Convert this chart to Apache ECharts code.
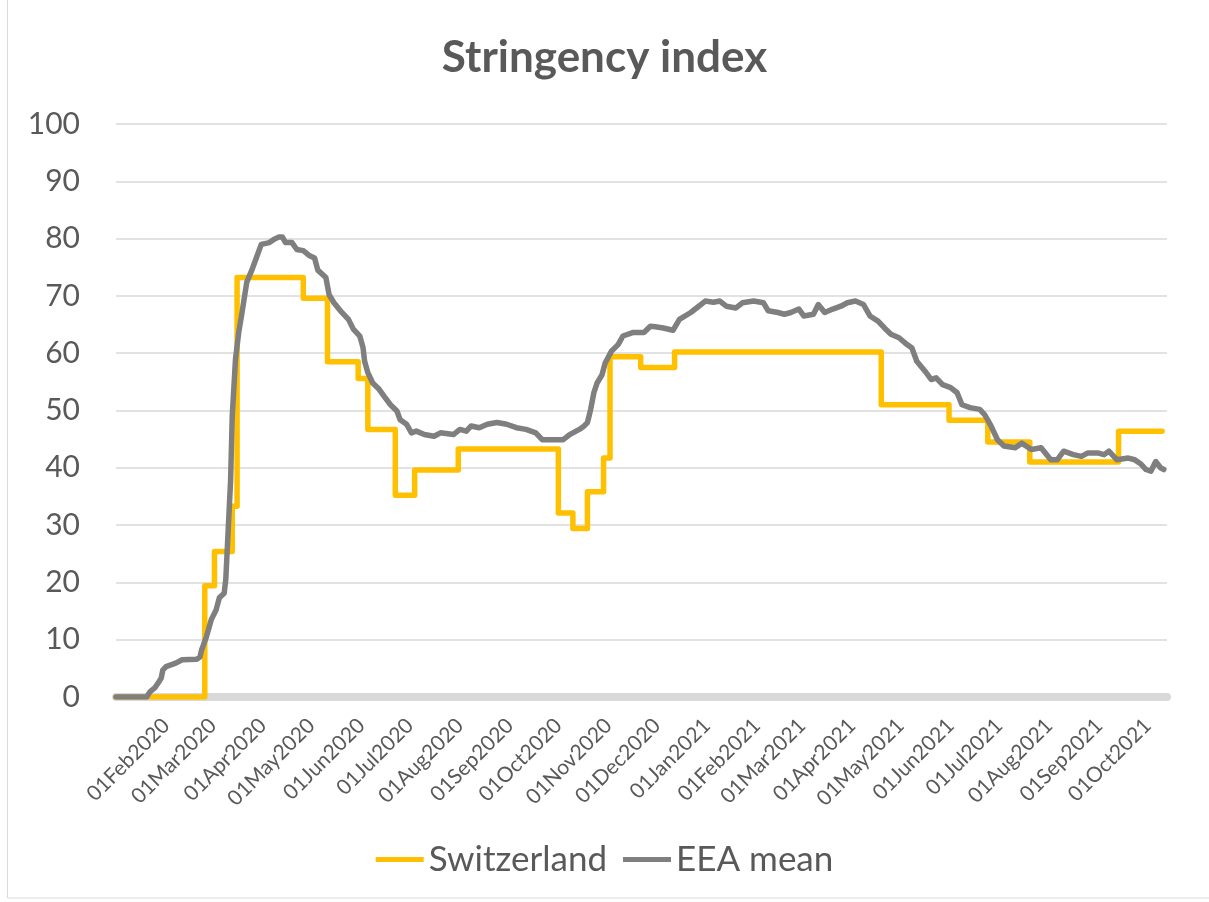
<!DOCTYPE html>
<html>
<head>
<meta charset="utf-8">
<script src="https://cdn.jsdelivr.net/npm/echarts@6/dist/echarts.min.js"></script>
<style>
  html, body { margin: 0; padding: 0; background: #fff; }
  #chart { width: 1209px; height: 902px; }
</style>
</head>
<body>
<div id="chart"></div>
<script>
// Switzerland: dates where the index changes, and the new value (step line)
var chDates = ['2020-01-01', '2020-02-25', '2020-03-02', '2020-03-13', '2020-03-16', '2020-04-26',
  '2020-05-11', '2020-05-30', '2020-06-05', '2020-06-22', '2020-07-04', '2020-07-31',
  '2020-10-01', '2020-10-10', '2020-10-19', '2020-10-29', '2020-11-02', '2020-11-21',
  '2020-12-12', '2021-04-19', '2021-05-31', '2021-06-24', '2021-07-20', '2021-09-13', '2021-10-10'];
var chValues = [0, 19.4, 25.4, 33.3, 73.2, 69.6,
  58.5, 55.6, 46.7, 35.2, 39.6, 43.3,
  32.1, 29.4, 35.8, 41.7, 59.4, 57.5,
  60.2, 51.0, 48.3, 44.5, 41.0, 46.4, 46.4];

// EEA mean
var eeaDates = ['2020-01-01', '2020-01-20', '2020-01-22', '2020-01-25', '2020-01-27', '2020-01-29',
  '2020-01-30', '2020-02-01', '2020-02-07', '2020-02-11', '2020-02-20', '2020-02-22', '2020-02-23',
  '2020-02-26', '2020-02-29', '2020-03-03', '2020-03-05', '2020-03-08', '2020-03-09', '2020-03-10',
  '2020-03-11', '2020-03-12', '2020-03-13', '2020-03-15', '2020-03-17', '2020-03-19', '2020-03-22',
  '2020-03-25', '2020-03-28', '2020-03-31', '2020-04-05', '2020-04-08', '2020-04-11', '2020-04-13',
  '2020-04-15', '2020-04-19', '2020-04-22', '2020-04-26', '2020-04-30', '2020-05-03', '2020-05-05',
  '2020-05-10', '2020-05-11', '2020-05-12', '2020-05-15', '2020-05-19', '2020-05-24', '2020-05-27',
  '2020-05-31', '2020-06-02', '2020-06-03', '2020-06-05', '2020-06-08', '2020-06-12', '2020-06-15',
  '2020-06-19', '2020-06-23', '2020-06-25', '2020-06-29', '2020-07-02', '2020-07-05', '2020-07-10',
  '2020-07-16', '2020-07-20', '2020-07-28', '2020-08-01', '2020-08-05', '2020-08-08', '2020-08-13',
  '2020-08-18', '2020-08-24', '2020-08-30', '2020-09-05', '2020-09-11', '2020-09-17', '2020-09-21',
  '2020-09-28', '2020-10-04', '2020-10-08', '2020-10-14', '2020-10-17', '2020-10-19', '2020-10-20',
  '2020-10-21', '2020-10-23', '2020-10-25', '2020-10-28', '2020-10-30', '2020-11-03', '2020-11-07',
  '2020-11-10', '2020-11-16', '2020-11-23', '2020-11-27', '2020-11-30', '2020-12-05', '2020-12-11',
  '2020-12-15', '2020-12-22', '2020-12-27', '2020-12-31', '2021-01-05', '2021-01-09', '2021-01-13',
  '2021-01-19', '2021-01-23', '2021-01-30', '2021-02-05', '2021-02-08', '2021-02-14', '2021-02-18',
  '2021-02-22', '2021-02-27', '2021-03-02', '2021-03-08', '2021-03-11', '2021-03-15', '2021-03-20',
  '2021-03-25', '2021-03-29', '2021-04-03', '2021-04-08', '2021-04-12', '2021-04-17', '2021-04-21',
  '2021-04-25', '2021-04-30', '2021-05-05', '2021-05-08', '2021-05-11', '2021-05-16', '2021-05-20',
  '2021-05-23', '2021-05-27', '2021-06-01', '2021-06-05', '2021-06-08', '2021-06-13', '2021-06-19',
  '2021-06-22', '2021-06-26', '2021-06-30', '2021-07-04', '2021-07-11', '2021-07-15', '2021-07-21',
  '2021-07-27', '2021-08-02', '2021-08-06', '2021-08-10', '2021-08-16', '2021-08-21', '2021-08-25',
  '2021-08-31', '2021-09-04', '2021-09-07', '2021-09-12', '2021-09-19', '2021-09-23', '2021-09-27',
  '2021-09-30', '2021-10-03', '2021-10-06', '2021-10-09', '2021-10-11'];
var eeaValues = [0, 0, 0.9, 1.6, 2.4, 3.3,
  4.7, 5.3, 5.9, 6.5, 6.6, 7.0, 8.2,
  10.5, 13.5, 15.2, 17.3, 18.1, 20.5, 26.3,
  32.1, 37.9, 49.0, 58.9, 63.6, 67.0, 72.4,
  74.4, 76.7, 79.0, 79.3, 79.9, 80.3, 80.3,
  79.3, 79.3, 78.1, 77.9, 77.0, 76.6, 74.5,
  73.2, 72.9, 70.2, 68.8, 67.4, 65.9, 64.2,
  63.0, 61.0, 58.6, 56.6, 54.8, 53.7, 52.5,
  51.0, 49.9, 48.4, 47.6, 46.1, 46.4, 45.8,
  45.5, 46.1, 45.8, 46.7, 46.4, 47.3, 47.0,
  47.6, 47.9, 47.6, 47.0, 46.7, 46.1, 44.9,
  44.9, 44.9, 45.8, 46.7, 47.3, 47.9, 49.0,
  50.2, 53.1, 54.8, 56.2, 58.3, 60.4, 61.5,
  63.0, 63.6, 63.6, 64.7, 64.6, 64.4, 64.0,
  65.9, 67.1, 68.2, 69.1, 68.9, 69.1, 68.2,
  67.9, 68.8, 69.1, 68.8, 67.4, 67.1, 66.8,
  67.1, 67.7, 66.5, 66.8, 68.5, 67.1, 67.7,
  68.2, 68.8, 69.1, 68.5, 66.5, 65.6, 64.4,
  63.3, 62.7, 61.5, 60.9, 58.6, 56.9, 55.4,
  55.7, 54.5, 54.0, 53.1, 51.0, 50.5, 50.2,
  49.3, 47.3, 44.9, 43.8, 43.5, 44.3, 43.2,
  43.5, 41.4, 41.4, 42.9, 42.3, 42.0, 42.6,
  42.6, 42.3, 42.9, 41.4, 41.7, 41.4, 40.6,
  39.7, 39.4, 41.1, 40.0, 39.7];

// x labels on the first of each month
var monthTicks = ['2020-02-01', '2020-03-01', '2020-04-01', '2020-05-01', '2020-06-01', '2020-07-01',
  '2020-08-01', '2020-09-01', '2020-10-01', '2020-11-01', '2020-12-01', '2021-01-01', '2021-02-01',
  '2021-03-01', '2021-04-01', '2021-05-01', '2021-06-01', '2021-07-01', '2021-08-01', '2021-09-01',
  '2021-10-01'];
var monthNames = ['Jan', 'Feb', 'Mar', 'Apr', 'May', 'Jun', 'Jul', 'Aug', 'Sep', 'Oct', 'Nov', 'Dec'];

function toTime(s) {
  var p = s.split('-');
  return new Date(+p[0], +p[1] - 1, +p[2]).getTime();
}
function pairs(dates, vals) {
  return dates.map(function (d, i) { return [toTime(d), vals[i]]; });
}

var chart = echarts.init(document.getElementById('chart'));
var font = 'Lato, "Open Sans", sans-serif';
var option = {
  animation: false,
  backgroundColor: '#fff',
  title: {
    text: 'Stringency index',
    left: 'center',
    top: 31,
    textStyle: { fontFamily: font, fontSize: 44, fontWeight: 'bold', color: '#595959' }
  },
  legend: {
    data: ['Switzerland', 'EEA mean'],
    bottom: 20,
    left: 'center',
    icon: 'rect',
    itemWidth: 48,
    itemHeight: 5,
    itemGap: 16,
    textStyle: { fontFamily: font, fontSize: 35, color: '#595959' }
  },
  grid: { left: 116, right: 42, top: 124, bottom: 205 },
  xAxis: {
    type: 'value',
    min: toTime('2020-01-01'),
    max: toTime('2021-10-13'),
    axisLine: { lineStyle: { color: '#D9D9D9', width: 8 } },
    axisTick: { show: false },
    splitLine: { show: false },
    axisLabel: {
      customValues: monthTicks.map(toTime),
      rotate: 45,
      margin: 25,
      hideOverlap: false,
      fontFamily: font,
      fontSize: 21,
      color: '#595959',
      formatter: function (v) {
        var d = new Date(v);
        return '01' + monthNames[d.getMonth()] + d.getFullYear();
      }
    }
  },
  yAxis: {
    type: 'value',
    min: 0,
    max: 100,
    interval: 10,
    axisLine: { show: false },
    axisTick: { show: false },
    splitLine: { lineStyle: { color: '#D9D9D9', width: 1.5 } },
    axisLabel: { fontFamily: font, fontSize: 30, color: '#595959', margin: 36 }
  },
  series: [
    {
      name: 'Switzerland',
      type: 'line',
      step: 'end',
      showSymbol: false,
      color: '#FFC000',
      lineStyle: { width: 5.5, color: '#FFC000', join: 'round', cap: 'round' },
      data: pairs(chDates, chValues)
    },
    {
      name: 'EEA mean',
      type: 'line',
      showSymbol: false,
      color: '#7F7F7F',
      lineStyle: { width: 5.5, color: '#7F7F7F', join: 'round', cap: 'round' },
      data: pairs(eeaDates, eeaValues)
    }
  ],
  graphic: [{
    type: 'rect',
    shape: { x: 7.5, y: -5, width: 1220, height: 903 },
    style: { fill: null, stroke: '#D9D9D9', lineWidth: 1 },
    silent: true
  }]
};
chart.setOption(option);
</script>
</body>
</html>
